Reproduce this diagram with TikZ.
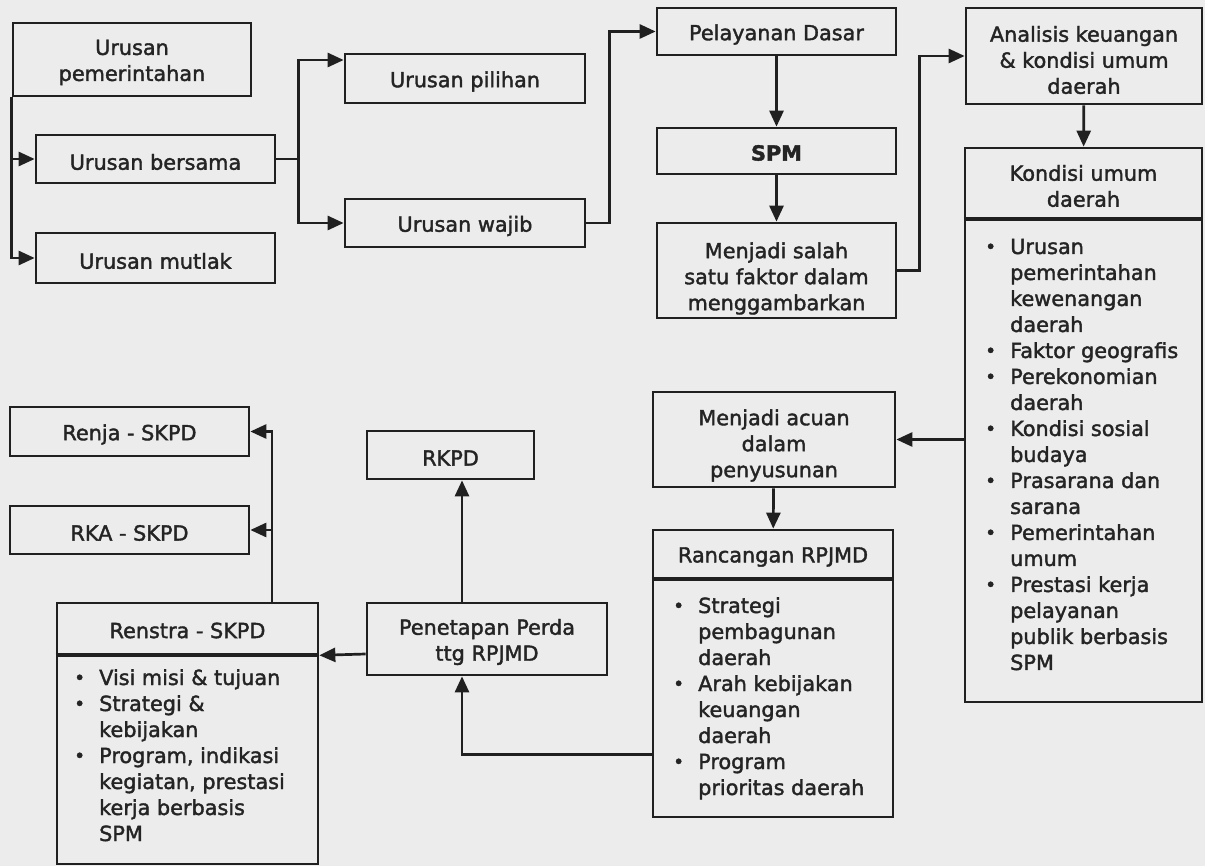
\documentclass[tikz,border=0pt]{standalone}
\usepackage{fontspec}
\setmainfont[FakeBold=1.8]{DejaVu Sans}
\usetikzlibrary{arrows.meta}
\definecolor{paper}{RGB}{236,236,236}
\definecolor{ink}{RGB}{32,32,32}
\definecolor{txt}{RGB}{36,36,36}
% round bullet, a little smaller than the text
\newcommand{\dotmark}{\raisebox{0.8pt}{\fontsize{18.5}{18.5}\selectfont\textbullet}}
% bulleted list: bullet column + text column, first row on the baseline
\newcommand{\blist}[1]{{\setlength{\tabcolsep}{0pt}\begin{tabular}[t]{@{}p{25pt}@{}l@{}}#1\end{tabular}}}

\begin{document}
\begin{tikzpicture}[x=1pt,y=-1pt,
  every node/.style={font=\fontsize{20.8}{26}\selectfont, text=txt},
  box/.style={draw=ink, line width=2.7pt, rectangle, inner sep=0pt},
  sz/.style 2 args={minimum width=#1pt, minimum height=#2pt},
  lbl/.style={inner sep=0pt, align=center},
  arr/.style={draw=ink, line width=2.7pt, -{Triangle[length=16pt,width=14pt]}},
  link/.style={draw=ink, line width=2.7pt},
  divider/.style={draw=ink, line width=4.2pt},
  listnode/.style={anchor=base west, inner sep=0pt}
]
\fill[paper] (0,0) rectangle (1205,866);
\useasboundingbox (0,0) rectangle (1205,866);

% --- Urusan column ---
\node[box, sz={238}{73}] (up) at (132,59.5) {};
\node[lbl] (up-t) at ([yshift=-3pt]up.center) {Urusan\\pemerintahan};
\node[box, sz={239}{48}] (ub) at (155.5,159) {};
\node[lbl] (ub-t) at ([yshift=-3pt]ub.center) {Urusan bersama};
\node[box, sz={239}{50}] (um) at (155.5,258) {};
\node[lbl] (um-t) at ([yshift=-3pt]um.center) {Urusan mutlak};
\node[box, sz={240}{49}] (upil) at (465,78.5) {};
\node[lbl] (upil-t) at ([yshift=-3pt]upil.center) {Urusan pilihan};
\node[box, sz={240}{48}] (uw) at (465,223) {};
\node[lbl] (uw-t) at ([yshift=-3pt]uw.center) {Urusan wajib};

% --- Pelayanan / SPM ---
\node[box, sz={239}{47}] (pd) at (776.5,31.5) {};
\node[lbl] (pd-t) at ([yshift=-3pt]pd.center) {Pelayanan Dasar};
\node[box, sz={239}{46}] (spm) at (776.5,151) {};
\node[lbl] (spm-t) at ([yshift=-2pt]spm.center) {\bfseries SPM};
\node[box, sz={239}{95}] (ms) at (776.5,270.5) {};
\node[lbl] (ms-t) at ([yshift=-8pt]ms.center) {Menjadi salah\\satu faktor dalam\\menggambarkan};

% --- Analisis and Kondisi umum daerah ---
\node[box, sz={236}{96}] (an) at (1084,56) {};
\node[lbl] (an-t) at ([yshift=-4pt]an.center) {Analisis keuangan\\\& kondisi umum\\daerah};
\node[box, sz={237}{70}] (konh) at (1083.5,183) {};
\node[lbl] (konh-t) at ([yshift=-3pt]konh.center) {Kondisi umum\\daerah};
\node[box, sz={237}{484}] (konb) at (1083.5,460) {};
\draw[divider] (konh.south west) -- (konh.south east);
\node[listnode] (konl) at (985,254) {\blist{%
\dotmark & Urusan\\ & pemerintahan\\ & kewenangan\\ & daerah\\
\dotmark & Faktor geografis\\
\dotmark & Perekonomian\\ & daerah\\
\dotmark & Kondisi sosial\\ & budaya\\
\dotmark & Prasarana dan\\ & sarana\\
\dotmark & Pemerintahan\\ & umum\\
\dotmark & Prestasi kerja\\ & pelayanan\\ & publik berbasis\\ & SPM}};

% --- Acuan and Rancangan RPJMD ---
\node[box, sz={242}{95}] (acu) at (774,439.5) {};
\node[lbl] (acu-t) at ([yshift=-6pt]acu.center) {Menjadi acuan\\dalam\\penyusunan};
\node[box, sz={240}{48}] (ranh) at (773,554) {};
\node[lbl] (ranh-t) at ([yshift=-3pt]ranh.center) {Rancangan RPJMD};
\node[box, sz={240}{239}] (ranb) at (773,697.5) {};
\draw[divider] (ranh.south west) -- (ranh.south east);
\node[listnode] (ranl) at (673,613) {\blist{%
\dotmark & Strategi\\ & pembagunan\\ & daerah\\
\dotmark & Arah kebijakan\\ & keuangan\\ & daerah\\
\dotmark & Program\\ & prioritas daerah}};

% --- Penetapan, RKPD ---
\node[box, sz={167}{48}] (rkpd) at (450.5,455) {};
\node[lbl] (rkpd-t) at ([yshift=-3pt]rkpd.center) {RKPD};
\node[box, sz={240}{72}] (pen) at (487,639) {};
\node[lbl] (pen-t) at ([yshift=-3pt]pen.center) {Penetapan Perda\\ttg RPJMD};

% --- SKPD documents ---
\node[box, sz={239}{49}] (renja) at (129.5,431.5) {};
\node[lbl] (renja-t) at ([yshift=-3pt]renja.center) {Renja - SKPD};
\node[box, sz={239}{48}] (rka) at (129.5,530) {};
\node[lbl] (rka-t) at ([yshift=-3pt]rka.center) {RKA - SKPD};
\node[box, sz={261}{51}] (rensh) at (187.5,628.5) {};
\node[lbl] (rensh-t) at ([yshift=-2pt]rensh.center) {Renstra - SKPD};
\node[box, sz={261}{210}] (rensb) at (187.5,759) {};
\draw[divider] (rensh.south west) -- (rensh.south east);
\node[listnode] (rensl) at (74,685) {\blist{%
\dotmark & Visi misi \& tujuan\\
\dotmark & Strategi \&\\ & kebijakan\\
\dotmark & Program, indikasi\\ & kegiatan, prestasi\\ & kerja berbasis\\ & SPM}};

% --- connectors ---
\draw[arr] (up.south west) |- (um.west);
\draw[arr] (up.south west |- ub.west) -- (ub.west);
\draw[link] (ub.east) -- ++(22,0) coordinate (fork);
\draw[arr] (fork) |- ([yshift=18.5pt]upil.west);
\draw[arr] (fork) |- (uw.west);
\draw[arr] (uw.east) -- ++(23,0) |- (pd.west);
\draw[arr] (pd) -- (spm);
\draw[arr] (spm) -- (ms);
\draw[arr] (ms.east) -- ++(22,0) |- (an.west);
\draw[arr] (an) -- (konh);
\draw[arr] (konb.west |- acu.east) -- (acu.east);
\draw[arr] (acu) -- (ranh);
\draw[arr] ([yshift=64pt]ranb.south west) -| ([xshift=-25pt]pen.south);
\draw[arr] ([xshift=-25pt]pen.north) -- ([xshift=-25pt]pen.north |- rkpd.south);
\draw[arr] ([yshift=-15pt]pen.west) -- (rensh.south east);
\draw[arr] ([xshift=84.5pt]rensh.north) |- (renja.east);
\draw[arr] ([xshift=84.5pt]rensh.north) |- (rka.east);
\end{tikzpicture}
\end{document}
